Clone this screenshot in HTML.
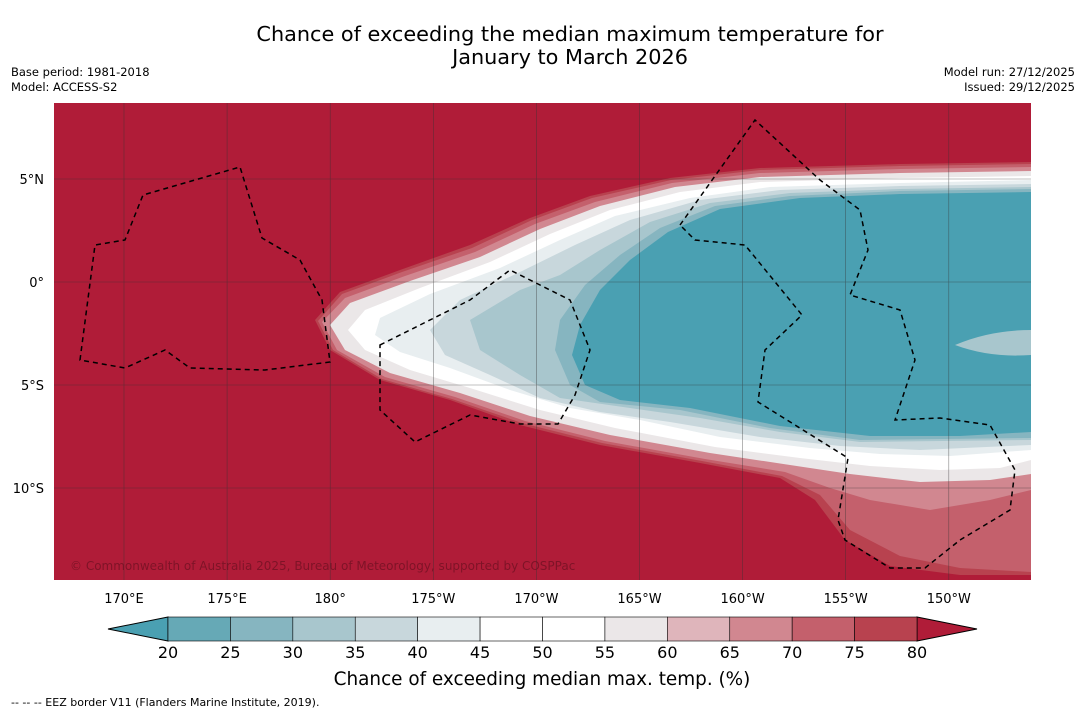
<!DOCTYPE html>
<html><head><meta charset="utf-8"><style>
body{margin:0;background:#fff;width:1085px;height:713px;overflow:hidden;font-family:"Liberation Sans",sans-serif}
svg text{font-family:"DejaVu Sans","Liberation Sans",sans-serif}
</style></head><body>
<svg id="s" width="1085" height="713">
<text x="570" y="41" font-size="20.8" text-anchor="middle">Chance of exceeding the median maximum temperature for</text>
<text x="570" y="64" font-size="20.8" text-anchor="middle">January to March 2026</text>
<text x="11" y="76" font-size="11.5">Base period: 1981-2018</text>
<text x="11" y="91" font-size="11.5">Model: ACCESS-S2</text>
<text x="1075" y="76" font-size="11.5" text-anchor="end">Model run: 27/12/2025</text>
<text x="1075" y="91" font-size="11.5" text-anchor="end">Issued: 29/12/2025</text>
<defs><clipPath id="mc"><rect x="54" y="103" width="977" height="477"/></clipPath></defs>
<g clip-path="url(#mc)">
<rect x="54" y="103" width="977" height="477" fill="#b01c38"/>
<path fill="#b8424f" d="M1031,162 L900,164 L760,168 L670,178 L590,196 L530,218 L470,245 L400,270 L340,292 L315,320 L330,350 L380,380 L450,400 L520,425 L600,445 L700,463 L780,478 L815,500 L845,540 L890,566 L960,575 L1031,575 Z"/>
<path fill="#c4606c" d="M1031,164 L900,166 L760,170 L671,180 L592,198 L532,220 L472,248 L402,272 L342,294 L318,321 L333,350 L382,379 L452,399 L522,423 L602,443 L702,461 L782,476 L820,495 L850,530 L900,556 L960,568 L1031,572 Z"/>
<path fill="#d18790" d="M1031,167 L900,169 L760,173 L672,183 L595,202 L535,224 L475,252 L405,276 L345,298 L322,322 L337,350 L385,377 L455,397 L525,421 L605,441 L705,459 L785,472 L830,488 L870,500 L930,510 L990,500 L1031,490 Z"/>
<path fill="#ebe7e8" d="M1031,171 L900,173 L760,177 L675,187 L600,206 L540,229 L480,257 L410,281 L350,303 L330,325 L345,350 L390,373 L460,393 L530,416 L610,435 L710,453 L790,465 L850,474 L920,482 L990,480 L1031,474 Z"/>
<path fill="#ffffff" d="M1031,176 L900,178 L760,182 L680,192 L610,210 L550,234 L490,262 L420,288 L365,310 L348,330 L365,350 L410,370 L470,388 L540,410 L615,428 L715,447 L800,458 L870,466 L940,470 L1000,468 L1031,460 Z"/>
<path fill="#e8eef0" d="M1031,180 L900,183 L770,187 L690,198 L615,216 L560,240 L500,268 L430,294 L380,318 L375,335 L400,352 L450,368 L510,390 L570,408 L640,420 L720,437 L810,448 L880,454 L950,456 L1031,450 Z"/>
<path fill="#c8d7dc" d="M1031,184 L900,186 L780,190 L700,200 L630,220 L575,245 L520,272 L460,300 L430,330 L445,355 L490,375 L540,398 L600,412 L670,422 L760,437 L840,446 L920,450 L1031,445 Z"/>
<path fill="#a8c6cd" d="M1031,187 L900,189 L790,193 L710,203 L650,222 L600,250 L560,275 L520,290 L470,320 L480,350 L520,375 L560,398 L630,408 L700,418 L780,432 L860,442 L1031,440 Z"/>
<path fill="#86b5c0" d="M1031,189 L900,191 L790,196 L715,206 L660,228 L620,255 L585,285 L560,320 L555,350 L570,385 L600,402 L680,410 L770,428 L860,440 L1031,438 Z"/>
<path fill="#4aa0b2" d="M1031,192 L900,194 L800,198 L720,209 L668,232 L630,260 L600,290 L580,325 L572,355 L585,385 L620,400 L690,408 L780,426 L870,436 L960,436 L1031,432 Z"/>
<path fill="#a8c6cd" d="M955,345 Q990,330 1031,330 L1031,355 Q990,358 955,345 Z"/>
<g stroke="#333" stroke-width="0.6" opacity="0.6" id="grid"></g>
<g fill="none" stroke="#000" stroke-width="1.5" stroke-dasharray="5,4">
<path d="M80,360 L95,245 L125,240 L143,195 L240,167 L262,238 L300,260 L322,300 L330,362 L265,370 L190,368 L165,350 L125,368 Z"/>
<path d="M380,345 L470,300 L510,270 L570,300 L590,350 L575,395 L558,424 L520,424 L470,415 L415,442 L380,410 Z"/>
<path d="M680,225 L755,120 L820,180 L860,210 L868,250 L850,295 L900,310 L915,360 L895,420 L940,418 L990,425 L1015,470 L1010,510 L960,540 L925,568 L890,568 L845,540 L838,520 L848,458 L758,402 L765,350 L802,315 L745,245 L695,240 Z"/>
</g>
<text x="70" y="570" font-size="12" fill="#6a1020" opacity="0.7">© Commonwealth of Australia 2025, Bureau of Meteorology, supported by COSPPac</text>
</g>
<g id="axes" font-size="13"></g>
<g id="cb"></g>
<text x="542" y="685" font-size="18.4" text-anchor="middle">Chance of exceeding median max. temp. (%)</text>
<text x="11" y="706" font-size="11">-- -- -- EEZ border V11 (Flanders Marine Institute, 2019).</text>
</svg>
<script>
const lonTicks=["170°E","175°E","180°","175°W","170°W","165°W","160°W","155°W","150°W"];
const latTicks=["5°N","0°","5°S","10°S"];
const cbTicks=[20,25,30,35,40,45,50,55,60,65,70,75,80];
const cbColors=["#66a9b6","#86b5c0","#a8c6cd","#c8d7dc","#e8eef0","#ffffff","#ffffff","#ebe7e8","#dfb5bb","#d18790","#c4606c","#b8424f"];
const NS="http://www.w3.org/2000/svg";
function mk(t,a,p){const e=document.createElementNS(NS,t);for(const k in a)e.setAttribute(k,a[k]);p.appendChild(e);return e;}
const lonX=i=>124+i*103.1, latY=i=>179+i*103;
const g=document.getElementById('grid'),ax=document.getElementById('axes'),cb=document.getElementById('cb');
lonTicks.forEach((t,i)=>{
 const l=mk('line',{x1:lonX(i),x2:lonX(i),y1:103,y2:580},g);
 
 
 const tx=mk('text',{x:lonX(i),y:603,'text-anchor':'middle'},ax);tx.textContent=t;
 
 
});
latTicks.forEach((t,i)=>{
 const l=mk('line',{x1:54,x2:1031,y1:latY(i),y2:latY(i)},g);
 
 
 const tx=mk('text',{x:44,y:latY(i)+5,'text-anchor':'end'},ax);tx.textContent=t;
 
 
});
const cx0=168,cx1=917,cw=(cx1-cx0)/cbColors.length,cy=617,ch=24;
const lt=mk('polygon',{points:`${cx0},${cy} ${cx0},${cy+ch} 108,${cy+ch/2}`,fill:'#4aa0b2',stroke:'#000','stroke-width':1},cb);


const rt=mk('polygon',{points:`${cx1},${cy} ${cx1},${cy+ch} 977,${cy+ch/2}`,fill:'#b01c38',stroke:'#000','stroke-width':1},cb);


cbColors.forEach((c,i)=>{
 const r=mk('rect',{x:cx0+i*cw,y:cy,width:cw,height:ch,fill:c,stroke:'#000','stroke-width':0.6},cb);
 
 
});
cbTicks.forEach((v,i)=>{
 const tx=mk('text',{x:cx0+i*cw,y:658,'text-anchor':'middle','font-size':16},cb);tx.textContent=v;
 
 
});
</script>
</body></html>
